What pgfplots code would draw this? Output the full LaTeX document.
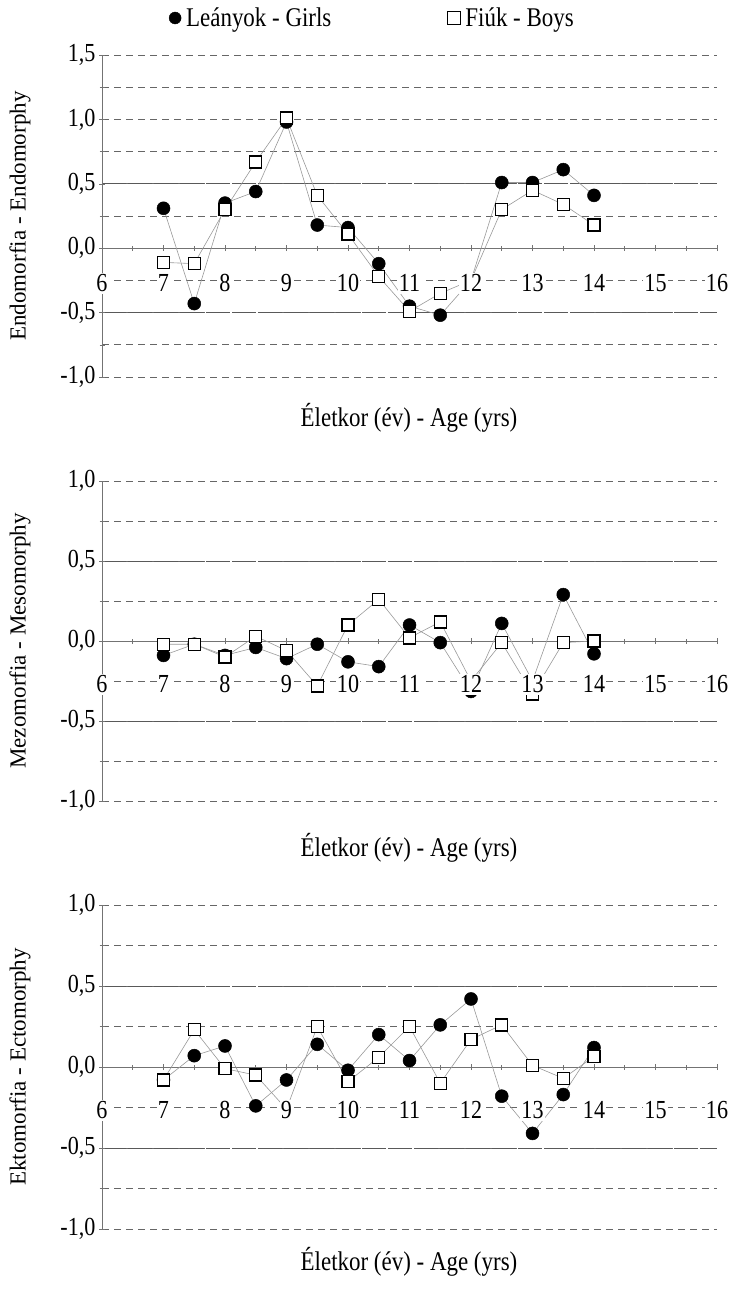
\documentclass[border=0pt]{standalone}
\usepackage{pgfplots}
\pgfplotsset{compat=1.18}
\usepackage{fontspec}
\setmainfont{Liberation Serif}
\newfontfamily\narrowserif{Liberation Serif}[FakeStretch=0.85]

\newcommand{\txt}{\narrowserif\fontsize{26}{30}\selectfont}
\newcommand{\ttl}{\narrowserif\fontsize{27}{31}\selectfont}
\newcommand{\ytl}{\fontsize{23}{27}\selectfont}

\pgfplotsset{
  somato/.style={
    set layers,
    scale only axis,
    width=615pt,
    xmin=6, xmax=16,
    axis x line=middle,
    axis y line=left,
    axis line style={-, draw=black!55, line width=0.7pt},
    every inner x axis line/.append style={-},
    every outer y axis line/.append style={-},
    hide obscured x ticks=false,
    hide obscured y ticks=false,
    /pgf/number format/assume math mode=true,
    xtick={6,...,16},
    minor xtick={6.5,7.5,...,15.5},
    tick align=center,
    major tick length=6pt,
    minor tick length=5pt,
    tick style={draw=black!55, line width=0.6pt},
    ymajorgrids, yminorgrids,
    major grid style={draw=black!60, line width=0.7pt, dash pattern=on 7pt off 5pt},
    minor grid style={draw=black!60, line width=0.7pt, dash pattern=on 7pt off 5pt},
    extra y ticks={-0.5,0.5},
    extra y tick labels={},
    extra y tick style={grid=major,
      major grid style={draw=black!65, line width=0.8pt, dash pattern=on 24pt off 2pt}},
    x tick label style={font=\txt, anchor=center, fill=white, inner sep=1pt,
      text height=18pt, text depth=1pt, /pgfplots/on layer=axis foreground},
    y tick label style={font=\txt, /pgf/number format/.cd, fixed, fixed zerofill,
      precision=1, use comma, assume math mode=true},
  },
  girls/.style={draw=black!40, line width=0.6pt, mark=*, mark size=6.5pt,
    mark options={solid, draw=black, fill=black, line width=0.5pt}},
  boys/.style={draw=black!40, line width=0.6pt, mark=square*, mark size=6pt,
    mark options={solid, draw=black, fill=white, line width=1.4pt}},
}

\begin{document}
\begin{tikzpicture}

% Endomorphy
\begin{axis}[somato, at={(102pt,-377pt)}, anchor=south west, height=322pt,
  ymin=-1, ymax=1.5,
  ytick={-1,-0.5,0,0.5,1,1.5}, minor ytick={-0.75,-0.25,0.25,0.75,1.25},
  x tick label style={yshift=-32pt},
  legend style={at={(axis description cs:0.4398,1)}, anchor=center, yshift=37pt,
    draw=none, fill=none, font=\ttl, legend columns=2,
    /tikz/every even column/.append style={column sep=114pt}},
  legend cell align=left]
\addlegendimage{only marks, mark=*, mark size=6pt, mark options={draw=black, fill=black}}
\addlegendentry{\hspace{3pt}Leányok - Girls}
\addlegendimage{only marks, mark=square, mark size=6.5pt, mark options={draw=black, line width=1pt}}
\addlegendentry{\hspace{3pt}Fiúk - Boys}
\addplot[girls, forget plot] coordinates {(7,0.31) (7.5,-0.43) (8,0.35) (8.5,0.44) (9,0.98) (9.5,0.18) (10,0.16) (10.5,-0.12) (11,-0.45) (11.5,-0.52) (12,-0.25) (12.5,0.51) (13,0.51) (13.5,0.61) (14,0.41)};
\addplot[boys, forget plot] coordinates {(7,-0.11) (7.5,-0.12) (8,0.30) (8.5,0.67) (9,1.01) (9.5,0.41) (10,0.11) (10.5,-0.22) (11,-0.49) (11.5,-0.35) (12,-0.25) (12.5,0.30) (13,0.45) (13.5,0.34) (14,0.18)};
\end{axis}

% Mesomorphy
\begin{axis}[somato, at={(102pt,-801pt)}, anchor=south west, height=320pt,
  ymin=-1, ymax=1,
  ytick={-1,-0.5,0,0.5,1}, minor ytick={-0.75,-0.25,0.25,0.75},
  x tick label style={yshift=-40pt}]
\addplot[girls] coordinates {(7,-0.09) (7.5,-0.02) (8,-0.09) (8.5,-0.04) (9,-0.11) (9.5,-0.02) (10,-0.13) (10.5,-0.16) (11,0.10) (11.5,-0.01) (12,-0.315) (12.5,0.11) (13,-0.25) (13.5,0.29) (14,-0.08)};
\addplot[boys] coordinates {(7,-0.02) (7.5,-0.02) (8,-0.10) (8.5,0.03) (9,-0.06) (9.5,-0.28) (10,0.10) (10.5,0.26) (11,0.02) (11.5,0.12) (12,-0.25) (12.5,-0.01) (13,-0.33) (13.5,-0.01) (14,0.00)};
\end{axis}

% Ectomorphy
\begin{axis}[somato, at={(102pt,-1229pt)}, anchor=south west, height=324pt,
  ymin=-1, ymax=1,
  ytick={-1,-0.5,0,0.5,1}, minor ytick={-0.75,-0.25,0.25,0.75},
  x tick label style={yshift=-40pt}]
\addplot[girls] coordinates {(7,-0.08) (7.5,0.07) (8,0.13) (8.5,-0.24) (9,-0.08) (9.5,0.14) (10,-0.02) (10.5,0.20) (11,0.04) (11.5,0.26) (12,0.42) (12.5,-0.18) (13,-0.41) (13.5,-0.17) (14,0.12)};
\addplot[boys] coordinates {(7,-0.08) (7.5,0.23) (8,-0.01) (8.5,-0.05) (9,-0.26) (9.5,0.25) (10,-0.09) (10.5,0.06) (11,0.25) (11.5,-0.10) (12,0.17) (12.5,0.26) (13,0.01) (13.5,-0.07) (14,0.065)};
\end{axis}

\node[font=\ytl, rotate=90] at (20pt,-216pt) {Endomorfia - Endomorphy};
\node[font=\ytl, rotate=90] at (20pt,-641pt) {Mezomorfia - Mesomorphy};
\node[font=\ytl, rotate=90] at (20pt,-1067pt) {Ektomorfia - Ectomorphy};
\node[font=\ttl] at (409pt,-418pt) {Életkor (év) - Age (yrs)};
\node[font=\ttl] at (409pt,-848pt) {Életkor (év) - Age (yrs)};
\node[font=\ttl] at (409pt,-1262pt) {Életkor (év) - Age (yrs)};

\pgfresetboundingbox
\path[use as bounding box] (0pt,0pt) rectangle (734pt,-1290pt);
\end{tikzpicture}
\end{document}
